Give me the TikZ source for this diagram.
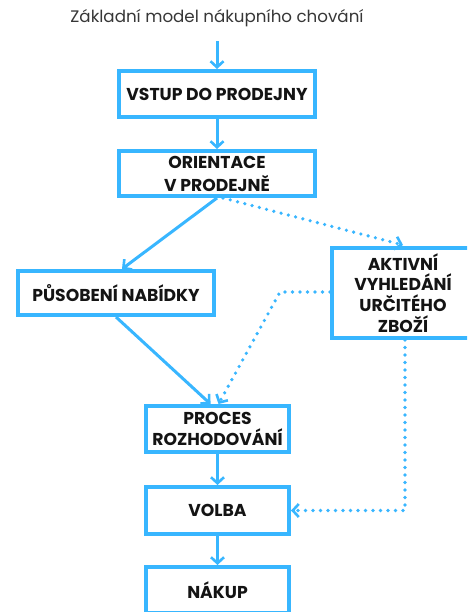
\documentclass[tikz,border=0pt]{standalone}
\usepackage{fontspec}
\setmainfont{Poppins}
\usetikzlibrary{arrows.meta}
\definecolor{skyb}{HTML}{38B6FF}
\definecolor{txt}{HTML}{141414}
\tikzset{
  box/.style={draw=skyb, line width=4pt, fill=white, inner sep=0pt, align=center,
    font=\bfseries\fontsize{17.2}{21.5}\selectfont, text=txt},
  arr/.style={draw=skyb, line width=3pt, -{Straight Barb[length=6pt,width=13pt,line width=2.6pt]}},
  dotarr/.style={draw=skyb, line width=3.6pt, line cap=round, dash pattern=on 0pt off 7.5pt,
    -{Straight Barb[length=6pt,width=13pt,line width=2.6pt]}},
}
\begin{document}
\begin{tikzpicture}[x=1pt,y=-1pt]
\clip (0,0) rectangle (467,612);
\fill[white] (0,0) rectangle (467,612);
\node[font=\fontsize{16.7}{18}\selectfont, text=txt!85] (title) at (217,18) {Základní model nákupního chování};
\node[box, minimum width=196pt, minimum height=46pt] (b1) at (217,94) {VSTUP DO PRODEJNY};
\node[box, minimum width=196pt, minimum height=45pt] (b2) at (217,173.5) {ORIENTACE\\[1.5pt]V PRODEJNĚ};
\node[box, minimum width=196pt, minimum height=44pt] (b3) at (116,293) {PŮSOBENÍ NABÍDKY};
\node[box, minimum width=142pt, minimum height=90pt, font=\bfseries\fontsize{17.2}{20.8}\selectfont] (b4) at (403,293) {AKTIVNÍ\\VYHLEDÁNÍ\\URČITÉHO\\ZBOŽÍ};
\node[box, minimum width=143pt, minimum height=46pt] (b5) at (217.5,429) {PROCES\\[-1pt]ROZHODOVÁNÍ};
\node[box, minimum width=143pt, minimum height=47pt] (b6) at (217.5,510.5) {VOLBA};
\node[box, minimum width=143pt, minimum height=46pt] (b7) at (217.5,590) {NÁKUP};
\draw[arr, shorten <=11pt] (title.south) -- (b1.north);
\draw[arr] (b1.south) -- (b2.north);
\draw[arr] (b2.south) -- ([xshift=6pt]b3.north);
\draw[dotarr] ([xshift=6pt]b2.south) -- ([yshift=1pt]b4.north);
\draw[arr] (b3.south) -- ([xshift=-7pt]b5.north);
\draw[dotarr] ([yshift=1pt]b4.west) -- ++(-50,0) -- ([xshift=1pt]b5.north);
\draw[arr] (b5.south) -- (b6.north);
\draw[dotarr] ([xshift=2pt]b4.south) |- (b6.east);
\draw[arr] (b6.south) -- (b7.north);
\end{tikzpicture}
\end{document}
